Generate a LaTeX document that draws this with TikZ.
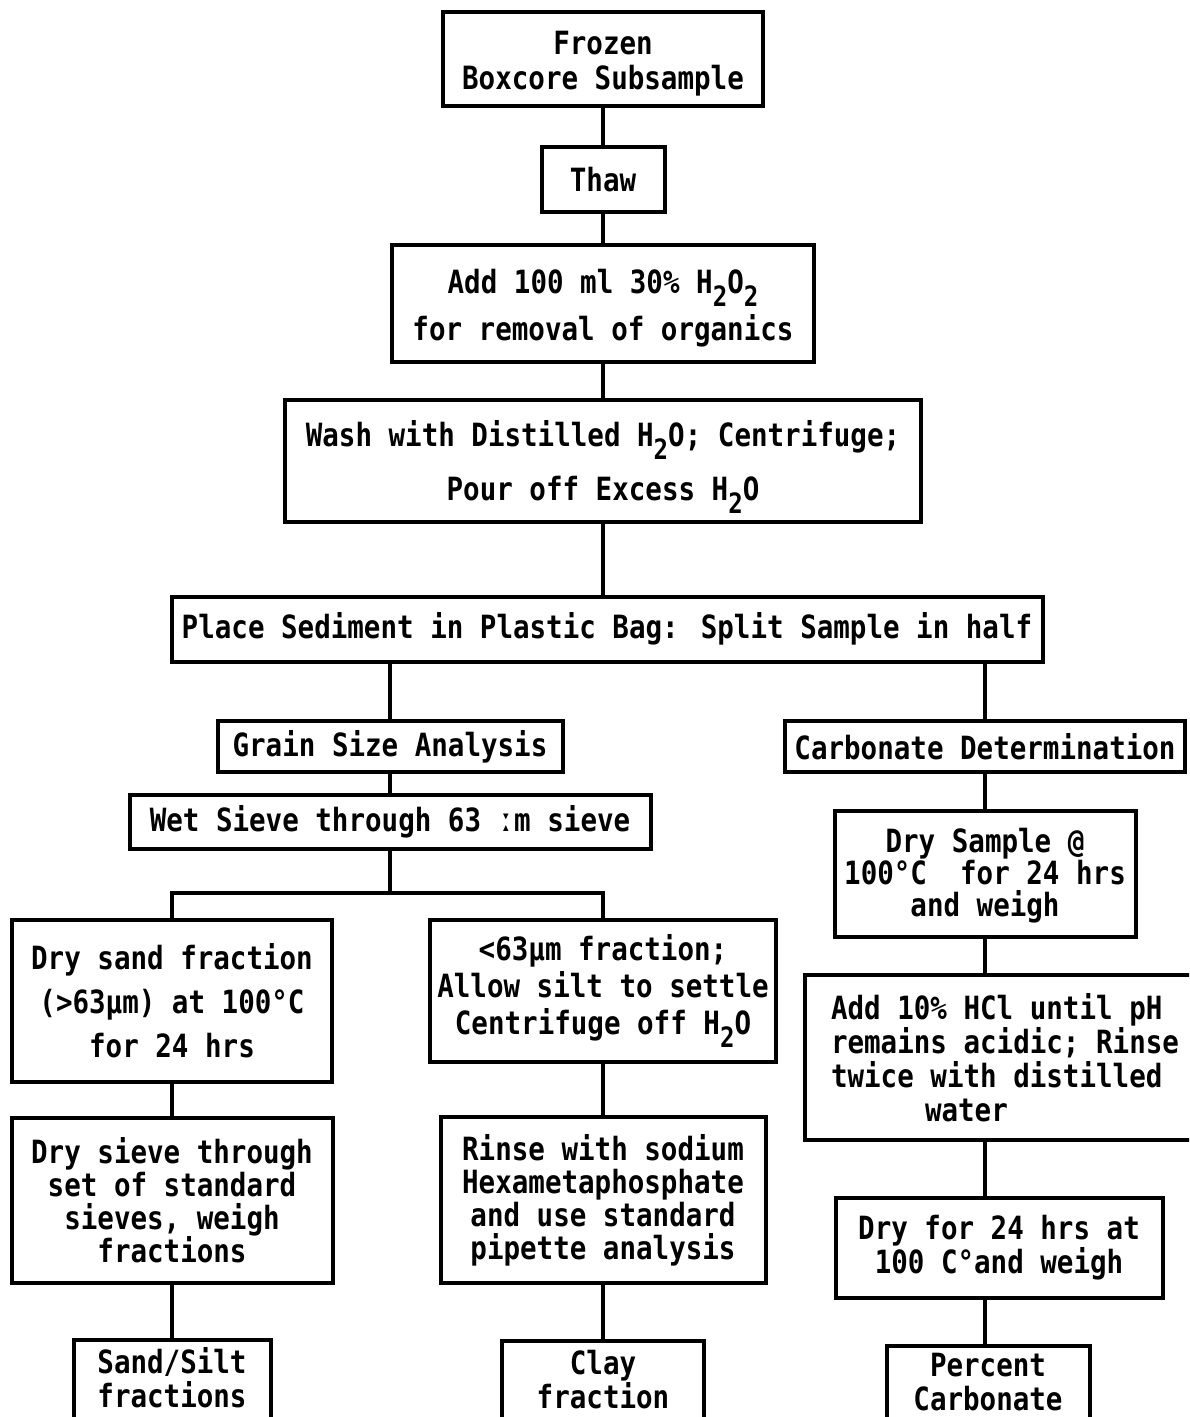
\documentclass[tikz,border=0pt]{standalone}
\usepackage{fontspec}
\setmainfont{DejaVu Sans Mono}[FakeStretch=0.86]
\newcommand{\lowtwo}{\raisebox{-0.75ex}{\fontsize{14}{14}\selectfont 2}}

\tikzset{
  stepbox/.style={draw, line width=2pt, align=center, inner sep=0pt,
    font=\bfseries\fontsize{16}{#1}\selectfont},
  stepbox/.default=16.5pt,
  boxsize/.style 2 args={minimum width=#1, minimum height=#2},
  link/.style={line width=1.8pt},
}

\begin{document}
\begin{tikzpicture}[x=0.5pt, y=-0.5pt]
    \useasboundingbox (0,0) rectangle (1189,1417);
    \clip (0,0) rectangle (1189,1417);

    % main trunk
    \node[stepbox=17.5pt, boxsize={160pt}{47pt}, text height=34pt] (frozen) at (603,59) {Frozen\\Boxcore Subsample};
    \node[stepbox, boxsize={61.5pt}{32.5pt}] (thaw) at (603,179.5) {Thaw};
    \node[stepbox=23.5pt, boxsize={211pt}{58.5pt}, text height=40pt] (perox) at (603,303.5)
        {Add 100 ml 30\% H\lowtwo O\lowtwo\\for removal of organics};
    \node[stepbox=27pt, boxsize={318pt}{61pt}, text height=46pt] (wash) at (603,461)
        {Wash with Distilled H\lowtwo O; Centrifuge;\\Pour off Excess H\lowtwo O};
    \node[stepbox, boxsize={435.5pt}{32.5pt}] (split) at (607,629)
        {Place Sediment in Plastic Bag: Split Sample in half};

    % grain size branch
    \node[stepbox, boxsize={172.5pt}{25.5pt}] (grain) at (390,746.5) {Grain Size Analysis};
    \node[stepbox, boxsize={260.5pt}{27pt}] (wetsieve) at (390,822) {Wet Sieve through 63 ːm sieve};
    \coordinate (fork) at (390,893);

    \node[stepbox=22pt, boxsize={160pt}{81pt}] (drysand) at (172,1001)
        {Dry sand fraction\\(>63µm) at 100°C\\for 24 hrs};
    \node[stepbox, boxsize={160.5pt}{82.5pt}] (drysieve) at (172,1200.5)
        {Dry sieve through\\set of standard\\sieves, weigh\\fractions};
    \node[stepbox=17pt, boxsize={98.5pt}{40pt}, text depth=3pt] (sandsilt) at (172,1380) {Sand/Silt\\fractions};

    \node[stepbox=18.5pt, boxsize={173pt}{71pt}] (fine) at (603,991)
        {<63µm fraction;\\Allow silt to settle\\Centrifuge off H\lowtwo O};
    \node[stepbox, boxsize={162.5pt}{83pt}] (rinse) at (603,1200)
        {Rinse with sodium\\Hexametaphosphate\\and use standard\\pipette analysis};
    \node[stepbox=17pt, boxsize={101pt}{40pt}, text depth=2pt] (clay) at (603,1381) {Clay\\fraction};

    % carbonate branch
    \node[stepbox, boxsize={200pt}{25.5pt}] (carb) at (985,746.5) {Carbonate Determination};
    \node[stepbox=16pt, boxsize={150.5pt}{63pt}, text height=46pt] (drysample) at (985,874)
        {Dry Sample @\\100°C~ for 24 hrs\\and weigh};
    \node[stepbox=17pt, align=left, boxsize={200pt}{82.5pt}] (acid) at (1005,1057.5)
        {Add 10\% HCl until pH\\remains acidic; Rinse\\twice with distilled\\\hspace*{47pt}water};
    \node[stepbox=16pt, boxsize={163.5pt}{50pt}] (dryweigh) at (999,1247.5)
        {Dry for 24 hrs at\\100 C°and weigh};
    \node[stepbox=17pt, boxsize={101.5pt}{38pt}, text depth=2.5pt] (percent) at (988,1384) {Percent\\Carbonate};

    % connectors
    \draw[link] (frozen) -- (thaw);
    \draw[link] (thaw) -- (perox);
    \draw[link] (perox) -- (wash);
    \draw[link] (wash.south) -- (wash.south |- split.north);
    \draw[link] (grain.north) -- (grain.north |- split.south);
    \draw[link] (carb.north) -- (carb.north |- split.south);
    \draw[link] (grain) -- (wetsieve);
    \draw[link] (wetsieve) -- (fork);
    \draw[link] (drysand.north) |- (fork) -| (fine.north);
    \draw[link] (drysand) -- (drysieve);
    \draw[link] (drysieve) -- (sandsilt);
    \draw[link] (fine) -- (rinse);
    \draw[link] (rinse) -- (clay);
    \draw[link] (carb) -- (drysample);
    \draw[link] (drysample.south) -- (drysample.south |- acid.north);
    \draw[link] (drysample.south |- acid.south) -- (drysample.south |- dryweigh.north);
    \draw[link] (drysample.south |- dryweigh.south) -- (drysample.south |- percent.north);
\end{tikzpicture}
\end{document}
